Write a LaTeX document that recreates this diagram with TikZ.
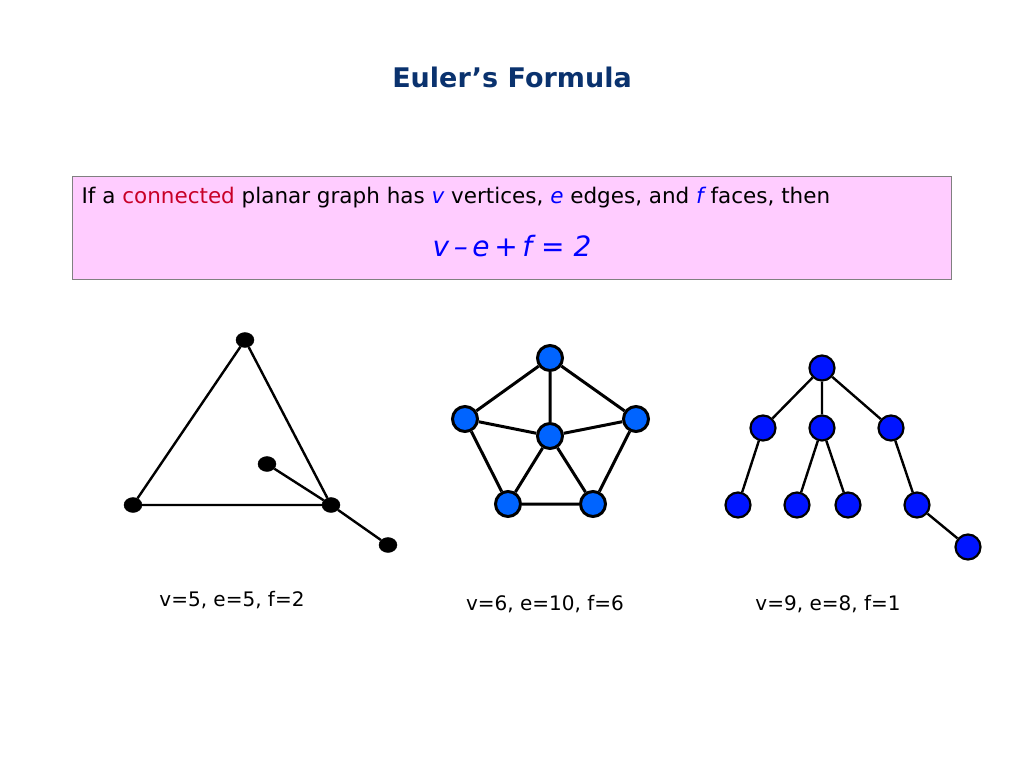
\documentclass[tikz,border=0pt]{standalone}
\usepackage{fontspec}
\usetikzlibrary{shapes.geometric}
\setmainfont{DejaVu Sans}
\begin{document}
\begin{tikzpicture}[x=1pt,y=-1pt,
  bv/.style={draw=black,fill=black,ellipse,minimum width=18pt,minimum height=15pt,inner sep=0pt},
  cv/.style={draw=black,line width=3pt,circle,minimum size=25pt,inner sep=0pt},
  ed/.style={line width=3pt},
  lab/.style={font=\fontsize{20}{24}\selectfont}]
\useasboundingbox (0,0) rectangle (1024,768);
\definecolor{vb}{RGB}{0,100,255}
\definecolor{vb2}{RGB}{0,20,255}
\definecolor{pinkbg}{RGB}{255,204,255}
\node (title) at (512,77) {\fontsize{27}{32}\selectfont\bfseries\color[RGB]{10,50,110}Euler’s Formula};
\node[draw=gray,fill=pinkbg,minimum width=879pt,minimum height=103pt,anchor=north west] (box) at (72,176) {};
\node[anchor=west,font=\fontsize{21.5}{25}\selectfont] (stmt) at (78,198) {If a \textcolor[RGB]{200,0,40}{connected} planar graph has \textcolor{blue}{\itshape v} vertices, \textcolor{blue}{\itshape e} edges, and \textcolor{blue}{\itshape f} faces, then};
\node (form) at (512,246) {\fontsize{28}{32}\selectfont\color{blue}\itshape v\,–\,e\,+\,f = 2};
% graph 1
\node[bv] (a1) at (245,340) {};
\node[bv] (a2) at (133,505) {};
\node[bv] (a3) at (331,505) {};
\node[bv] (a4) at (267,464) {};
\node[bv] (a5) at (388,545) {};
\draw[line width=2.4pt] (a1)--(a2) (a1)--(a3) (a2)--(a3) (a4)--(a3) (a3)--(a5);
% graph 2
\begin{scope}[every node/.style={cv,fill=vb}]
\node (b1) at (550,358) {};
\node (b2) at (465,419) {};
\node (b3) at (636,419) {};
\node (b4) at (550,436) {};
\node (b5) at (508,504) {};
\node (b6) at (593,504) {};
\end{scope}
% graph 3
\begin{scope}[every node/.style={cv,fill=vb2,line width=2.2pt}]
\node (c1) at (822,368) {};
\node (c2) at (763,428) {};
\node (c3) at (822,428) {};
\node (c4) at (891,428) {};
\node (c5) at (738,505) {};
\node (c6) at (797,505) {};
\node (c7) at (848,505) {};
\node (c8) at (917,505) {};
\node (c9) at (968,547) {};
\end{scope}
\draw[ed] (b1)--(b2) (b1)--(b3) (b1)--(b4) (b2)--(b4) (b3)--(b4) (b2)--(b5) (b3)--(b6) (b4)--(b5) (b4)--(b6) (b5)--(b6);
\draw[ed,line width=2.4pt] (c1)--(c2) (c1)--(c3) (c1)--(c4) (c2)--(c5) (c3)--(c6) (c3)--(c7) (c4)--(c8) (c8)--(c9);
\node[lab] (l1) at (232,600) {v=5, e=5, f=2};
\node[lab] (l2) at (545,604) {v=6, e=10, f=6};
\node[lab] (l3) at (828,604) {v=9, e=8, f=1};
\end{tikzpicture}
\end{document}
